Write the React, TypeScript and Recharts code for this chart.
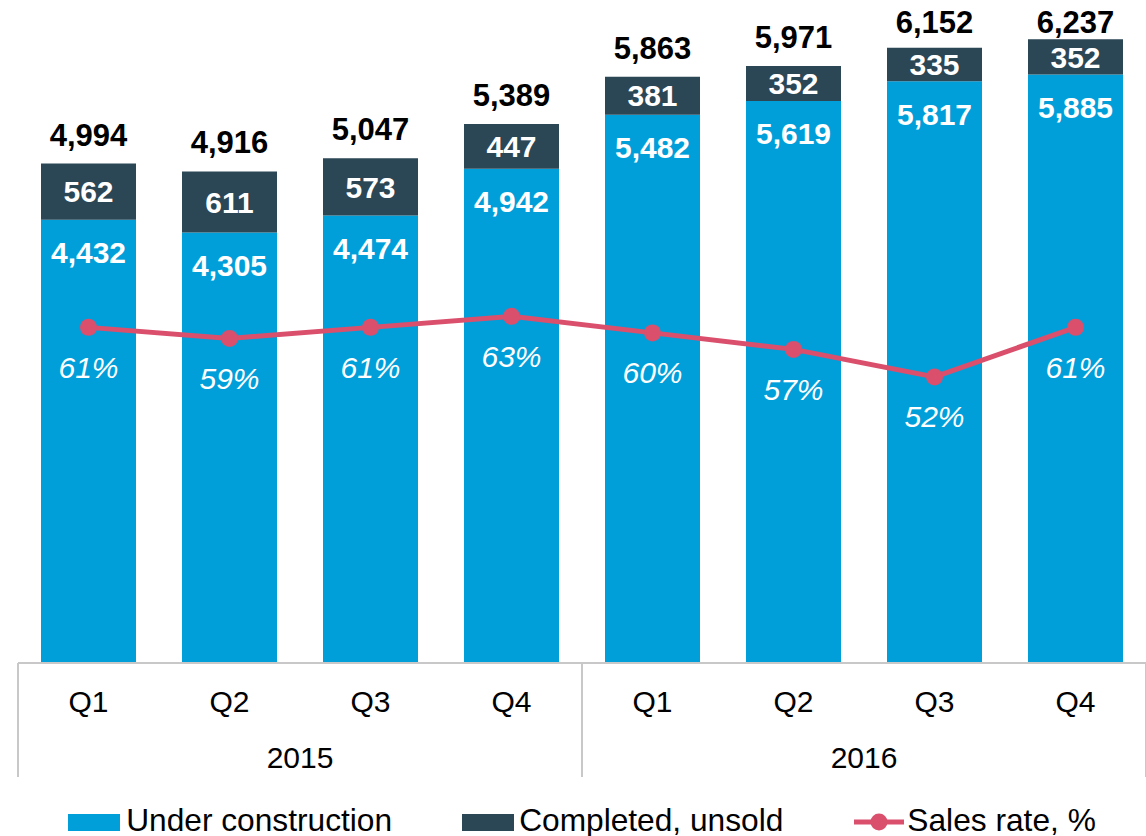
import { Bar, ComposedChart, LabelList, Legend, Line, XAxis, YAxis } from 'recharts'

const quarters = ['Q1', 'Q2', 'Q3', 'Q4', 'Q1', 'Q2', 'Q3', 'Q4']
const years = ['2015', '2015', '2015', '2015', '2016', '2016', '2016', '2016']
const underConstruction = [4432, 4305, 4474, 4942, 5482, 5619, 5817, 5885]
const completedUnsold = [562, 611, 573, 447, 381, 352, 335, 352]
const totals = [4994, 4916, 5047, 5389, 5863, 5971, 6152, 6237]
const salesRate = [61, 59, 61, 63, 60, 57, 52, 61]

const BLUE = '#009fda'
const DARK = '#2b4655'
const RED = '#da4f6c'
const FONT = '"Liberation Sans", Arial, sans-serif'

const data = quarters.map((q, i) => ({
  key: `${years[i]}-${q}`,
  q,
  year: years[i],
  under: underConstruction[i],
  completed: completedUnsold[i],
  total: totals[i],
  rate: salesRate[i],
}))

const fmt = (v: number) => v.toLocaleString('en-US')

function TotalLabel(props: any) {
  const { x, y, width, value } = props
  const baseline = Math.max(y - 18, 33)
  return (
    <text
      x={x + width / 2}
      y={baseline}
      textAnchor='middle'
      fontFamily={FONT}
      fontSize={31}
      fontWeight='bold'
      fill='#000'
    >
      {fmt(value)}
    </text>
  )
}

function QuarterTick(props: any) {
  const { x, y, payload } = props
  return (
    <text x={x} y={y + 49} textAnchor='middle' fontFamily={FONT} fontSize={30} fill='#000'>
      {quarters[payload.index] ?? payload.value}
    </text>
  )
}

function YearTick(props: any) {
  const { x, y, payload, index } = props
  const half = 282
  return (
    <g>
      <line x1={x - half} x2={x - half} y1={y - 55} y2={y + 59} stroke='#c8c8c8' strokeWidth={2} />
      {index === 1 && (
        <line x1={x + half} x2={x + half} y1={y - 55} y2={y + 59} stroke='#c8c8c8' strokeWidth={2} />
      )}
      <text x={x} y={y + 50} textAnchor='middle' fontFamily={FONT} fontSize={30} fill='#000'>
        {payload.value}
      </text>
    </g>
  )
}

function LegendContent() {
  const item = { display: 'flex', alignItems: 'center' }
  const text = { fontFamily: FONT, fontSize: 31.7, color: '#000', lineHeight: '34px', whiteSpace: 'nowrap' as const }
  return (
    <div style={{ display: 'flex', justifyContent: 'center', gap: 70, paddingTop: 26 }}>
      <div style={item}>
        <span style={{ width: 52, height: 17, background: BLUE, marginRight: 6, marginTop: 4 }} />
        <span style={text}>Under construction</span>
      </div>
      <div style={item}>
        <span style={{ width: 52, height: 17, background: DARK, marginRight: 5, marginTop: 4 }} />
        <span style={text}>Completed, unsold</span>
      </div>
      <div style={item}>
        <svg width={52} height={20} style={{ marginRight: 2, marginTop: 4 }}>
          <line x1={1} x2={51} y1={10} y2={10} stroke={RED} strokeWidth={5} />
          <circle cx={26} cy={10} r={8.5} fill={RED} />
        </svg>
        <span style={text}>Sales rate, %</span>
      </div>
    </div>
  )
}

export default function App() {
  return (
    <div style={{ position: 'absolute', left: 0, top: 0, background: '#fff' }}>
      <ComposedChart
        width={1146}
        height={836}
        data={data}
        margin={{ top: 0, right: 0, left: 18, bottom: 0 }}
        barSize={95}
      >
        <XAxis
          dataKey='key'
          height={55}
          tickLine={false}
          tickSize={0}
          tickMargin={0}
          axisLine={{ stroke: '#c8c8c8', strokeWidth: 2 }}
          tick={<QuarterTick />}
          interval={0}
        />
        <XAxis
          xAxisId='year'
          dataKey='year'
          allowDuplicatedCategory={false}
          height={59}
          tickLine={false}
          tickSize={0}
          tickMargin={0}
          axisLine={false}
          tick={<YearTick />}
          interval={0}
        />
        <YAxis yAxisId='bars' hide domain={[0, 6630]} />
        <YAxis yAxisId='rate' hide orientation='right' domain={[0, 120.5]} />
        <Legend verticalAlign='bottom' height={59} content={<LegendContent />} />
        <Bar
          yAxisId='bars'
          dataKey='under'
          stackId='a'
          fill={BLUE}
          name='Under construction'
          isAnimationActive={false}
        >
          <LabelList
            dataKey='under'
            position='insideTop'
            offset={22}
            formatter={(v: any) => fmt(Number(v))}
            fill='#fff'
            fontSize={30}
            fontWeight='bold'
            fontFamily={FONT}
          />
        </Bar>
        <Bar
          yAxisId='bars'
          dataKey='completed'
          stackId='a'
          fill={DARK}
          name='Completed, unsold'
          isAnimationActive={false}
        >
          <LabelList
            dataKey='completed'
            position='center'
            fill='#fff'
            fontSize={30}
            fontWeight='bold'
            fontFamily={FONT}
          />
          <LabelList dataKey='total' content={<TotalLabel />} />
        </Bar>
        <Line
          yAxisId='rate'
          dataKey='rate'
          name='Sales rate, %'
          stroke={RED}
          strokeWidth={5}
          dot={{ r: 8.5, fill: RED, stroke: RED, strokeWidth: 0 }}
          activeDot={false}
          isAnimationActive={false}
        >
          <LabelList
            dataKey='rate'
            position='bottom'
            offset={29}
            formatter={(v: any) => `${v}%`}
            fill='#fff'
            fontSize={30}
            fontStyle='italic'
            fontFamily={FONT}
          />
        </Line>
      </ComposedChart>
    </div>
  )
}
